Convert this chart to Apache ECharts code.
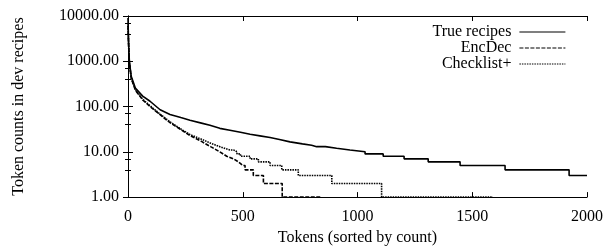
<!DOCTYPE html>
<html>
<head>
<meta charset="utf-8">
<script src="https://cdn.jsdelivr.net/npm/echarts@6/dist/echarts.min.js"></script>
<style>
html,body{margin:0;padding:0;background:#fff;}
#chart{width:608px;height:251px;}
</style>
</head>
<body>
<div id="chart"></div>
<script>
// ---- data ----
const seriesNames = ['True recipes', 'EncDec', 'Checklist+'];

const trueRanks  = [0, 2, 6, 14, 32, 64, 96, 140, 183, 230, 270, 320, 357, 400, 444, 490, 532, 575, 619, 660, 706, 760, 800, 822, 860, 860, 909, 909, 967, 967, 1033, 1033, 1112, 1112, 1203, 1203, 1308, 1308, 1447, 1447, 1643, 1643, 1922, 1922, 2000];
const trueCounts = [9000, 3000, 990, 464, 258, 170, 131, 85, 67, 57, 50, 43, 38.5, 33, 30, 27, 24.4, 22.5, 20.7, 18.7, 16.6, 15, 14, 13, 13, 12, 12, 11, 11, 10, 10, 9, 9, 8, 8, 7, 7, 6, 6, 5, 5, 4, 4, 3, 3];

const encRanks  = [0, 3, 6, 14, 32, 64, 96, 140, 183, 230, 270, 320, 360, 400, 430, 460, 481, 500, 510, 510, 546, 546, 590, 590, 672, 672, 841];
const encCounts = [6000, 2000, 900, 420, 230, 140, 100, 66, 44, 31, 23, 17, 13, 10, 8, 7, 6, 5, 5, 4, 4, 3, 3, 2, 2, 1, 1];

const chkRanks  = [0, 3, 6, 14, 32, 64, 96, 140, 183, 230, 270, 320, 360, 400, 444, 460, 460, 475, 475, 490, 490, 532, 532, 568, 568, 619, 619, 670, 670, 742, 742, 888, 888, 1105, 1105, 1590];
const chkCounts = [7000, 2200, 950, 430, 240, 145, 104, 68, 46, 32, 24, 19, 15.5, 13, 11, 11, 10, 10, 9, 9, 8, 8, 7, 7, 6, 6, 5, 5, 4, 4, 3, 3, 2, 2, 1, 1];

const xTicks = [0, 500, 1000, 1500, 2000];
const yTicks = [1, 10, 100, 1000, 10000];

// ---- chart ----
const zip = (xs, ys) => xs.map((x, i) => [x, ys[i]]);
const FONT = '"Liberation Serif", "Times New Roman", Times, serif';
const FS = 16;
const chart = echarts.init(document.getElementById('chart'), null, {renderer: 'canvas'});

const axisLine = {show: true, lineStyle: {color: '#000', width: 1}};
const tick = {show: true, inside: true, length: 5, lineStyle: {color: '#000', width: 1}};
const minor = {show: true, splitNumber: 3, length: 3, lineStyle: {color: '#000', width: 1}};

function legend(i, top) {
  return {
    data: [seriesNames[i]], right: 42, top: top, orient: 'vertical', align: 'right',
    itemWidth: 46, itemHeight: 6, itemGap: 0, padding: 0,
    itemStyle: {opacity: 0},
    lineStyle: {width: 1.2},
    textStyle: {fontFamily: FONT, fontSize: FS, color: '#000', padding: [0, 3, 0, 0]},
    selectedMode: false
  };
}

const option = {
  animation: false,
  backgroundColor: '#fff',
  grid: {left: 128, right: 21, top: 16, bottom: 52, containLabel: false},
  legend: [legend(0, 24), legend(1, 40), legend(2, 56)],
  xAxis: [{
    type: 'value', min: xTicks[0], max: xTicks[xTicks.length - 1], interval: 500,
    name: 'Tokens (sorted by count)', nameLocation: 'middle', nameGap: 32,
    nameTextStyle: {fontFamily: FONT, fontSize: FS, color: '#000'},
    axisLine: axisLine, axisTick: tick, splitLine: {show: false},
    axisLabel: {fontFamily: FONT, fontSize: FS, color: '#000', margin: 12, formatter: v => String(v)}
  }, {
    type: 'value', position: 'top', min: xTicks[0], max: xTicks[xTicks.length - 1], interval: 500,
    axisLine: axisLine, axisTick: tick, splitLine: {show: false}, axisLabel: {show: false}
  }],
  yAxis: [{
    type: 'log', logBase: 10, min: yTicks[0], max: yTicks[yTicks.length - 1], interval: 1,
    name: 'Token counts in dev recipes', nameLocation: 'middle', nameRotate: 90, nameGap: 101,
    nameTextStyle: {fontFamily: FONT, fontSize: FS, color: '#000'},
    axisLine: axisLine, axisTick: tick, minorTick: minor, splitLine: {show: false}, minorSplitLine: {show: false},
    axisLabel: {fontFamily: FONT, fontSize: FS, color: '#000', margin: 9, formatter: v => v.toFixed(2)}
  }, {
    type: 'log', logBase: 10, position: 'right', min: yTicks[0], max: yTicks[yTicks.length - 1], interval: 1,
    axisLine: axisLine, axisTick: tick, minorTick: minor, splitLine: {show: false}, axisLabel: {show: false}
  }],
  series: [
    {name: seriesNames[0], type: 'line', data: zip(trueRanks, trueCounts), showSymbol: false, symbol: 'none',
     lineStyle: {color: '#000', width: 1.6, type: 'solid'}, itemStyle: {color: '#000'}, z: 3},
    {name: seriesNames[1], type: 'line', data: zip(encRanks, encCounts), showSymbol: false, symbol: 'none',
     lineStyle: {color: '#000', width: 1.6, type: [4, 1.5]}, itemStyle: {color: '#000'}, z: 2},
    {name: seriesNames[2], type: 'line', data: zip(chkRanks, chkCounts), showSymbol: false, symbol: 'none',
     lineStyle: {color: '#000', width: 1.6, type: [1.5, 1]}, itemStyle: {color: '#000'}, z: 2}
  ]
};
chart.setOption(option);
</script>
</body>
</html>
